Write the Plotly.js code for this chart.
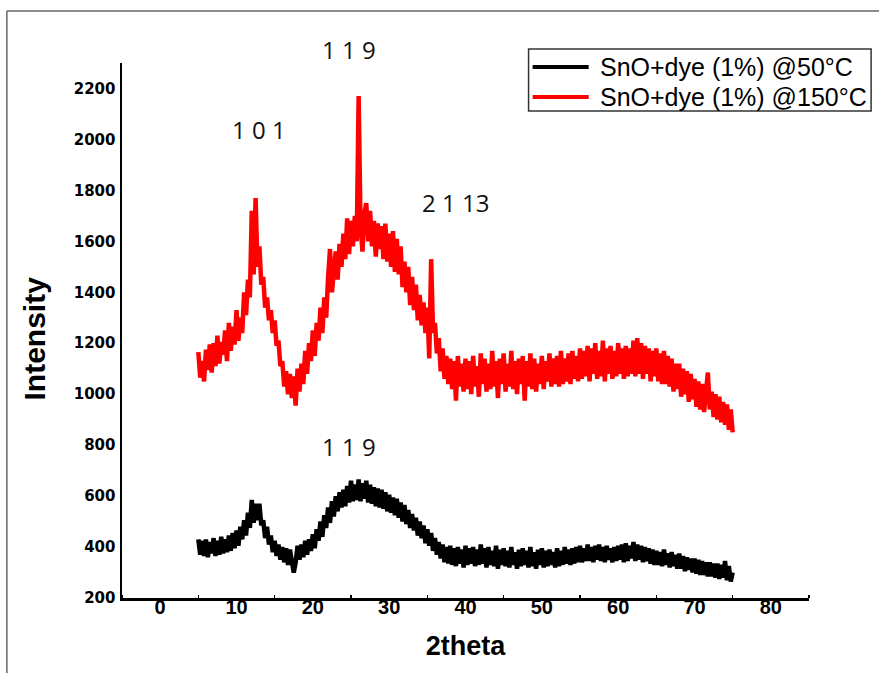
<!DOCTYPE html>
<html>
<head>
<meta charset="utf-8">
<script src="https://cdn.plot.ly/plotly-3.0.1.min.js"></script>
<style>html,body{margin:0;padding:0;background:#fff;}#chart{width:879px;height:673px;}</style>
</head>
<body>
<div id="chart"></div>
<script>
// 2theta sampling of both scans (degrees)
const TWO_THETA_START = 5;
const TWO_THETA_STEP = 0.25;

// Series names
const seriesNames = ['SnO+dye (1%) @50°C', 'SnO+dye (1%) @150°C'];
const seriesColors = ['#000000', '#ff0000'];

// Intensity, SnO+dye (1%) @50°C  (2theta 5 → 75, step 0.25)
const intensity50 = [
430,370,425,365, 430,360,420,375, 435,365,425,370, 440,375,430,380, 445,385,455,395,
465,405,480,430, 505,445,535,475, 585,495,570,505, 570,485,505,435, 480,410,445,380,
425,365,410,350, 400,340,395,330, 390,335,300,340, 405,350,410,360, 425,370,430,385,
450,395,470,425, 500,440,525,475, 555,495,580,520, 600,540,615,555, 625,560,640,575,
660,580,645,585, 665,580,650,590, 660,575,645,570, 635,560,630,555, 625,550,615,540,
605,535,595,525, 590,515,575,500, 565,490,545,475, 530,465,515,445, 500,435,485,415,
470,405,455,385, 435,370,420,355, 410,340,400,335, 405,330,395,325, 400,335,390,320,
405,330,395,335, 400,325,390,330, 410,335,395,320, 400,330,385,325, 405,315,390,330,
395,325,385,320, 400,330,380,315, 390,325,395,330, 385,320,400,325, 380,315,390,330,
395,320,385,325, 390,330,380,320, 395,325,385,330, 400,335,390,330, 395,335,400,340,
405,340,395,345, 410,345,400,340, 405,350,410,345, 400,340,405,350, 395,340,400,345,
405,350,410,340, 415,345,405,355, 420,345,410,350, 405,340,400,345, 395,335,390,330,
385,330,380,325, 390,330,375,320, 380,325,370,315, 375,315,365,305, 360,310,355,300,
355,295,350,290, 345,290,340,285, 340,285,335,280, 335,275,330,280, 345,270,325,265,
300
];

// Intensity, SnO+dye (1%) @150°C  (2theta 5 → 75, step 0.25)
const intensity150 = [
1165,1065,1130,1050, 1175,1095,1195,1085, 1200,1110,1230,1120, 1205,1155,1250,1130,
1280,1170,1265,1195, 1330,1210,1300,1240, 1400,1310,1450,1380, 1720,1470,1770,1500,
1580,1430,1460,1340, 1380,1290,1330,1240, 1290,1190,1210,1110, 1130,1030,1090,1000,
1080,985,1070,955, 1100,1010,1120,1040, 1170,1080,1200,1130, 1250,1150,1280,1210,
1340,1240,1380,1300, 1460,1570,1400,1500, 1560,1450,1590,1500, 1630,1530,1690,1550,
1680,1580,1700,1600, 2170,1660,1560,1710, 1750,1600,1720,1580, 1680,1540,1670,1570,
1660,1530,1670,1520, 1630,1500,1640,1480, 1610,1470,1580,1420, 1520,1400,1500,1350,
1460,1330,1430,1290, 1390,1270,1360,1240, 1340,1140,1530,1240, 1280,1160,1220,1090,
1180,1060,1150,1040, 1140,1020,1130,975, 1150,1030,1120,1010, 1140,1020,1130,1000,
1150,1030,1110,990, 1160,1040,1140,1010, 1120,1020,1170,1030, 1130,985,1140,1040,
1160,1010,1120,1030, 1170,1020,1130,1000, 1140,1040,1150,975, 1130,1030,1160,1020,
1140,1010,1120,1040, 1150,1020,1130,1050, 1160,1030,1140,1040, 1150,1030,1170,1040,
1140,1050,1160,1040, 1170,1060,1150,1050, 1180,1060,1170,1070, 1190,1050,1180,1080,
1200,1060,1170,1070, 1210,1050,1180,1080, 1190,1060,1170,1070, 1200,1080,1180,1060,
1190,1070,1180,1080, 1210,1070,1220,1080, 1200,1060,1190,1080, 1180,1050,1170,1070,
1180,1050,1160,1040, 1170,1040,1150,1030, 1140,1010,1120,1020, 1120,990,1100,1000,
1090,970,1080,980, 1060,950,1050,940, 1040,930,1020,1085, 940,1010,910,1000,
900,990,890,970, 880,960,860,940, 850
];

// Axis ticks
const xTickVals = [0, 10, 20, 30, 40, 50, 60, 70, 80];
const yTickVals = [200, 400, 600, 800, 1000, 1200, 1400, 1600, 1800, 2000, 2200];
const yRange = [200, 2300];

// Peak labels (Miller indices) and their positions (2theta, intensity)
const peakLabels = ['1 1 9', '1 0 1', '2 1 13', '1 1 9'];
const peakLabelX = [24.7, 12.9, 38.7, 24.7];
const peakLabelY = [2352, 2040, 1752, 794];

const traces = seriesNames.map((name, i) => ({
  type: 'scatter', mode: 'lines', name: name,
  x0: TWO_THETA_START, dx: TWO_THETA_STEP, y: i === 0 ? intensity50 : intensity150,
  line: {color: seriesColors[i], width: 4.5}, showlegend: false
}));

const toPaperY = v => (v - yRange[0]) / (yRange[1] - yRange[0]);

const annotations = peakLabels.map((t, i) => ({
  text: t, x: peakLabelX[i], y: toPaperY(peakLabelY[i]), xref: 'x', yref: 'paper',
  xanchor: 'center', yanchor: 'middle',
  showarrow: false, font: {family: 'Open Sans, Noto Sans, sans-serif', size: 24, color: '#111'}
}));

// Legend box (drawn in paper coordinates)
const LEG = {x0: 0.5918, x1: 1.0904, y0: 0.9103, y1: 1.0262, lineX0: 0.5977, lineX1: 0.6793,
             textX: 0.6924, rows: [0.9925, 0.9364]};
seriesNames.forEach((name, i) => {
  annotations.push({
    text: name, x: LEG.textX, y: LEG.rows[i], xref: 'paper', yref: 'paper',
    xanchor: 'left', yanchor: 'middle', showarrow: false,
    font: {family: 'Liberation Sans, Arial, sans-serif', size: 25, color: '#000'}
  });
});

const shapes = [
  {type: 'line', xref: 'paper', yref: 'paper', x0: -0.1676, x1: 1.11, y0: 1.0972, y1: 1.0972,
   line: {color: '#666666', width: 1.5}},
  {type: 'line', xref: 'paper', yref: 'paper', x0: -0.1676, x1: -0.1676, y0: 1.0972, y1: -0.15,
   line: {color: '#666666', width: 1.5}},
  {type: 'rect', xref: 'paper', yref: 'paper', x0: LEG.x0, x1: LEG.x1, y0: LEG.y0, y1: LEG.y1,
   fillcolor: '#ffffff', line: {color: '#333333', width: 1.5}}
];
seriesNames.forEach((name, i) => {
  shapes.push({type: 'line', xref: 'paper', yref: 'paper', x0: LEG.lineX0, x1: LEG.lineX1,
    y0: LEG.rows[i], y1: LEG.rows[i], line: {color: seriesColors[i], width: 4}});
});

const layout = {
  width: 879, height: 673,
  margin: {l: 122, r: 70, t: 63, b: 75, pad: 0},
  paper_bgcolor: '#ffffff', plot_bgcolor: '#ffffff',
  showlegend: false,
  xaxis: {
    range: [-5, 85], tickvals: xTickVals, ticktext: xTickVals.map(String),
    showgrid: false, zeroline: false, showline: true, linecolor: '#000', linewidth: 2.5,
    ticks: '', ticklabelstandoff: -11,
    tickfont: {family: 'Liberation Sans, Arial, sans-serif', size: 20, color: '#000', weight: 'bold'},
    minor: {tick0: 5, dtick: 10, ticks: 'inside', ticklen: 3, tickwidth: 1.5, tickcolor: '#000'},
    title: {text: '<b>2theta</b>', standoff: 20,
      font: {family: 'Liberation Sans, Arial, sans-serif', size: 27, color: '#000'}}
  },
  yaxis: {
    range: yRange, tickvals: yTickVals,
    showgrid: false, zeroline: false, showline: true, linecolor: '#000', linewidth: 2.5,
    ticks: '', ticklabelstandoff: 1,
    tickfont: {family: 'DejaVu Sans, sans-serif', size: 15, color: '#000', weight: 'bold'},
    title: {text: '<b>Intensity&nbsp;&nbsp;</b>', standoff: 20,
      font: {family: 'Liberation Sans, Arial, sans-serif', size: 30, color: '#000'}}
  },
  annotations: annotations,
  shapes: shapes
};

Plotly.newPlot('chart', traces, layout, {staticPlot: true, displayModeBar: false});
</script>
</body>
</html>
